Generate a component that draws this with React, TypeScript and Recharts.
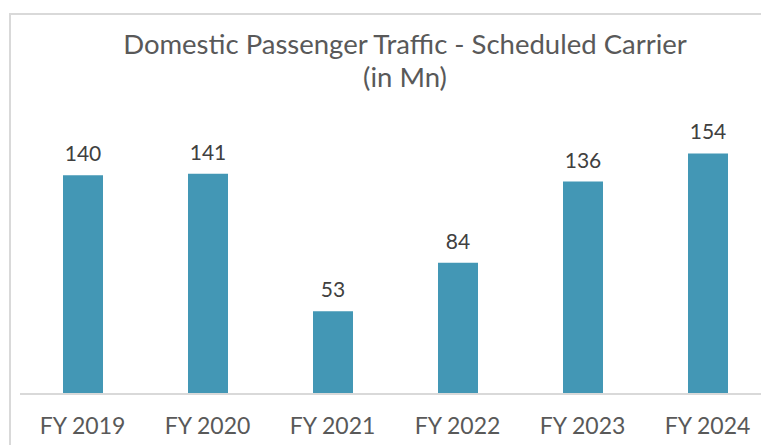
import { BarChart, Bar, XAxis, YAxis, LabelList } from 'recharts';

const years = ['FY 2019', 'FY 2020', 'FY 2021', 'FY 2022', 'FY 2023', 'FY 2024'];
const traffic = [140, 141, 53, 84, 136, 154];

const data = years.map((year, i) => ({ year, value: traffic[i] }));

const font = 'Lato, "Open Sans", sans-serif';

export default function App() {
  return (
    <div style={{ position: 'absolute', left: 0, top: 0, width: 761, height: 445, overflow: 'hidden', background: '#fff' }}>
      <div
        style={{
          position: 'absolute',
          left: 9,
          top: 13,
          width: 800,
          height: 500,
          border: '2px solid #d9d9d9',
          boxSizing: 'border-box',
        }}
      />
      <div
        style={{
          position: 'absolute',
          left: 0,
          top: 27,
          width: 810,
          textAlign: 'center',
          fontFamily: font,
          fontSize: 27.5,
          lineHeight: '33px',
          color: '#595959',
        }}
      >
        Domestic Passenger Traffic - Scheduled Carrier
        <br />
        (in Mn)
      </div>
      <div style={{ position: 'absolute', left: 0, top: 0 }}>
        <BarChart
          width={800}
          height={445}
          data={data}
          margin={{ top: 144, right: 30, bottom: 21, left: 20 }}
          barSize={40}
        >
          <XAxis
            dataKey="year"
            height={30}
            axisLine={{ stroke: '#d9d9d9', strokeWidth: 2 }}
            tickLine={false}
            tickMargin={18}
            interval={0}
            tick={{ fill: '#595959', fontSize: 23, fontFamily: font }}
          />
          <YAxis hide domain={[0, 160]} />
          <Bar dataKey="value" fill="#4397b5" isAnimationActive={false}>
            <LabelList
              dataKey="value"
              position="top"
              offset={14}
              style={{ fill: '#404040', fontSize: 21, fontFamily: font }}
            />
          </Bar>
        </BarChart>
      </div>
    </div>
  );
}
